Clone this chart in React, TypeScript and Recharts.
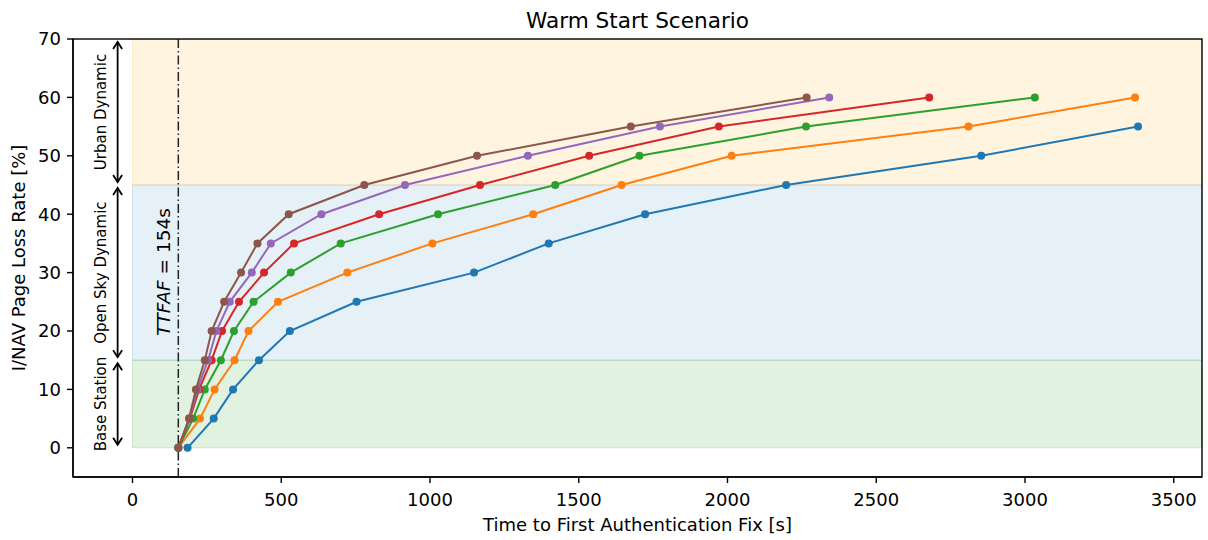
import React from 'react';
import {
  LineChart,
  Line,
  XAxis,
  YAxis,
  ReferenceArea,
  ReferenceLine,
} from 'recharts';

// page loss rate levels [%] shared by all series
const lossRates = [0, 5, 10, 15, 20, 25, 30, 35, 40, 45, 50, 55, 60];

// time to first authentication fix [s] for each loss level
const ttfaBlue = [185, 273, 338, 425, 529, 753, 1148, 1399, 1723, 2197, 2853, 3380];
const ttfaOrange = [154, 227, 276, 343, 390, 489, 722, 1008, 1347, 1644, 2014, 2810, 3370];
const ttfaGreen = [154, 204, 243, 297, 341, 407, 532, 700, 1027, 1421, 1704, 2264, 3033];
const ttfaRed = [154, 193, 224, 266, 301, 358, 442, 543, 829, 1168, 1535, 1971, 2678];
const ttfaPurple = [154, 191, 218, 254, 282, 327, 401, 465, 635, 916, 1329, 1773, 2342];
const ttfaBrown = [154, 190, 213, 243, 266, 308, 365, 420, 525, 779, 1158, 1675, 2266];

const xTicks = [0, 500, 1000, 1500, 2000, 2500, 3000, 3500];
const yTicks = [0, 10, 20, 30, 40, 50, 60, 70];

const ttfaf = 154;

const bands = [
  { label: 'Urban Dynamic', from: 45, to: 70, color: '#ffa500', opacity: 0.12 },
  { label: 'Open Sky Dynamic', from: 15, to: 45, color: '#1f77b4', opacity: 0.11 },
  { label: 'Base Station', from: 0, to: 15, color: '#2ca02c', opacity: 0.14 },
];

const series = [
  { name: 'blue', color: '#1f77b4', ttfa: ttfaBlue },
  { name: 'orange', color: '#ff7f0e', ttfa: ttfaOrange },
  { name: 'green', color: '#2ca02c', ttfa: ttfaGreen },
  { name: 'red', color: '#d62728', ttfa: ttfaRed },
  { name: 'purple', color: '#9467bd', ttfa: ttfaPurple },
  { name: 'brown', color: '#8c564b', ttfa: ttfaBrown },
];

const X_MIN = -200;
const X_MAX = 3595;
const Y_MIN = -5;
const Y_MAX = 70;

// axes box + title + axis labels, placed around the plot rectangle
function Frame(props: any) {
  const { x, y, width, height } = props;
  return (
    <g>
      <rect x={x} y={y} width={width} height={height} fill="none" stroke="#000" strokeWidth={1.4} />
      <text x={x + width / 2} y={y - 11} textAnchor="middle" fontSize={21.6} fill="#000">
        Warm Start Scenario
      </text>
      <text x={x + width / 2} y={y + height + 54} textAnchor="middle" fontSize={18} fill="#000">
        Time to First Authentication Fix [s]
      </text>
      <text
        transform={`translate(${x - 55},${y + height / 2}) rotate(-90)`}
        textAnchor="middle"
        dominantBaseline="central"
        fontSize={18}
        fill="#000"
      >
        I/NAV Page Loss Rate [%]
      </text>
    </g>
  );
}

// double headed arrow with a rotated label on its left
function BandArrow(props: any) {
  const { x1, y1, y2, label } = props;
  const top = Math.min(y1, y2) + 3;
  const bot = Math.max(y1, y2) - 3;
  const hw = 4.5;
  const hh = 7;
  const tx = x1 - 17;
  const ty = (top + bot) / 2;
  return (
    <g>
      <line x1={x1} y1={top} x2={x1} y2={bot} stroke="#000" strokeWidth={1.8} />
      <polyline
        points={`${x1 - hw},${top + hh} ${x1},${top} ${x1 + hw},${top + hh}`}
        fill="none"
        stroke="#000"
        strokeWidth={1.8}
      />
      <polyline
        points={`${x1 - hw},${bot - hh} ${x1},${bot} ${x1 + hw},${bot - hh}`}
        fill="none"
        stroke="#000"
        strokeWidth={1.8}
      />
      <text
        transform={`translate(${tx},${ty}) rotate(-90)`}
        textAnchor="middle"
        dominantBaseline="central"
        fontSize={15}
        fill="#000"
      >
        {label}
      </text>
    </g>
  );
}

// dash-dot TTFAF marker line with its rotated annotation
function TtfafLine(props: any) {
  const { x1, y1, x2, y2 } = props;
  const tx = x1 - 15;
  const ty = 272;
  return (
    <g>
      <line
        x1={x1}
        y1={y1}
        x2={x2}
        y2={y2}
        stroke="#222"
        strokeWidth={1.5}
        strokeDasharray="9 3 1.5 3"
      />
      <text
        transform={`translate(${tx},${ty}) rotate(-90)`}
        textAnchor="middle"
        dominantBaseline="central"
        fontSize={18.5}
        fill="#000"
      >
        <tspan fontStyle="italic">TTFAF</tspan>
        <tspan> = {ttfaf}s</tspan>
      </text>
    </g>
  );
}

export default function App() {
  return (
    <div
      style={{
        position: 'absolute',
        left: 0,
        top: 0,
        width: 1208,
        height: 540,
        background: '#fff',
        fontFamily: '"DejaVu Sans", sans-serif',
      }}
    >
      <LineChart width={1208} height={540} margin={{ top: 39, right: 6, bottom: 0, left: 0 }}>
        <XAxis
          type="number"
          dataKey="t"
          domain={[X_MIN, X_MAX]}
          allowDataOverflow
          ticks={xTicks}
          height={63}
          tickSize={6}
          tickMargin={10}
          tick={{ fontSize: 18, fill: '#000' }}
          tickLine={{ stroke: '#000', strokeWidth: 1.4 }}
          axisLine={{ stroke: '#000', strokeWidth: 1.4 }}
        />
        <YAxis
          type="number"
          dataKey="rate"
          domain={[Y_MIN, Y_MAX]}
          allowDataOverflow
          ticks={yTicks}
          width={73}
          tickSize={6}
          tickMargin={6}
          tick={{ fontSize: 18, fill: '#000' }}
          tickLine={{ stroke: '#000', strokeWidth: 1.4 }}
          axisLine={{ stroke: '#000', strokeWidth: 1.4 }}
        />
        {bands.map((b) => (
          <ReferenceArea
            key={b.label}
            x1={0}
            x2={X_MAX}
            y1={b.from}
            y2={b.to}
            fill={b.color}
            fillOpacity={b.opacity}
            stroke={b.color}
            strokeOpacity={b.opacity + 0.05}
            strokeWidth={1}
          />
        ))}
        <ReferenceArea x1={X_MIN} x2={X_MAX} y1={Y_MIN} y2={Y_MAX} shape={<Frame />} />
        {bands.map((b) => (
          <ReferenceLine
            key={`arrow-${b.label}`}
            segment={[
              { x: -50, y: b.to },
              { x: -50, y: b.from },
            ]}
            shape={(p: any) => <BandArrow {...p} label={b.label} />}
          />
        ))}
        <ReferenceLine x={ttfaf} shape={(p: any) => <TtfafLine {...p} />} />
        {series.map((s) => (
          <Line
            key={s.name}
            data={s.ttfa.map((t, i) => ({ t, rate: lossRates[i] }))}
            dataKey="rate"
            type="linear"
            stroke={s.color}
            strokeWidth={2}
            dot={{ r: 4, fill: s.color, stroke: s.color, strokeWidth: 0 }}
            activeDot={false}
            isAnimationActive={false}
          />
        ))}
      </LineChart>
    </div>
  );
}
